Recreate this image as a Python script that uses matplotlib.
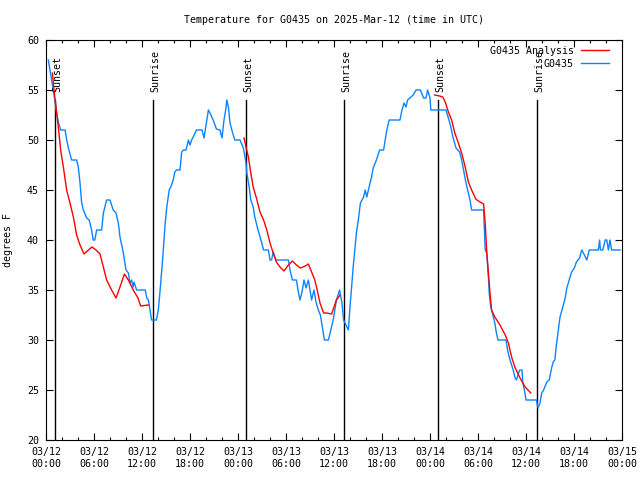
import numpy as np
import matplotlib
matplotlib.use("Agg")
import matplotlib.pyplot as plt
from matplotlib.ticker import MultipleLocator

# hours since 2025-03-12 00:00 UTC
obs_h = [0.29,0.5,0.7,0.9,1.1,1.33,1.54,1.83,2.38,2.6,2.8,3.2,3.83,4.04,4.25,4.46,4.67,5.08,5.4,5.7,5.9,6.1,6.33,6.96,7.17,7.58,8.0,8.4,8.75,9.04,9.25,9.67,10.0,10.3,10.5,10.7,10.9,11.0,11.33,12.4,12.6,12.8,13.0,13.2,13.8,14.04,14.3,14.6,14.9,15.1,15.4,15.6,15.9,16.1,16.3,16.75,16.96,17.2,17.5,17.8,18.0,18.2,18.4,18.8,19.5,19.75,20.1,20.3,20.5,20.9,21.3,21.75,22.0,22.25,22.5,22.6,22.8,23.0,23.3,23.6,24.25,24.67,25.0,25.1,25.4,25.6,25.9,26.1,26.5,26.8,27.2,27.8,28.0,28.2,28.4,28.75,30.3,30.5,30.8,31.3,31.5,31.75,32.0,32.25,32.5,32.8,33.0,33.2,33.5,33.75,34.04,34.3,34.6,34.8,35.3,35.6,35.9,36.3,36.7,37.0,37.2,37.5,37.8,38.0,38.2,38.4,38.6,38.8,39.04,39.3,39.7,39.9,40.1,40.3,40.5,40.7,40.9,41.3,41.7,42.2,42.4,42.6,42.9,44.25,44.5,44.75,45.0,45.2,45.9,46.25,46.8,47.2,47.5,47.7,48.0,48.1,50.0,50.3,50.6,50.9,51.25,51.7,51.96,52.2,52.5,52.8,53.0,53.2,54.7,54.8,54.9,55.1,55.3,55.4,55.6,55.8,56.1,56.3,56.5,57.5,57.7,58.0,58.4,58.6,58.8,59.0,59.2,59.5,59.6,59.8,60.0,61.3,61.5,61.75,61.96,62.2,62.6,62.9,63.2,63.4,63.6,63.8,64.04,64.25,64.5,64.9,65.1,65.4,65.7,66.04,66.3,66.7,66.96,67.3,67.6,67.9,69.04,69.2,69.3,69.6,69.9,70.1,70.3,70.5,70.7,71.75]
obs_t = [58,57,56,55,54,52.7,51.8,51,51,50,49.2,48,48,47.3,45.7,43.7,43,42.2,42,41,40,40,41,41,42.7,44,44,43,42.7,41.7,40.3,38.7,37,36.7,35.7,36,35.3,35.8,35,35,34.2,34,33,32,32,33,35.3,38.3,41.7,43.3,45,45.3,46,46.8,47,47,48.8,49,49,50,49.5,50,50.3,51,51,50.2,52,53,52.7,52,51.1,51,50.2,52,53.2,54,53.3,51.7,50.8,50,50,49.2,47.7,46.7,45.3,44,43.3,42.3,41,40.2,39,39,38,38,38.8,38,38,37,36,36,35,34,34.8,36,35.2,36,35,34,35,33.8,33,32.5,31,30,30,31,32,34,35,33.7,32,31.5,31,33.3,35.3,37.3,39,40.7,42,43.7,44.3,45,44.3,45,45.7,46.3,47.2,48,49,49,50,51,52,52,53,53.7,53.3,54,54.5,55,55,54.2,54.2,55,54.2,53,53,52.2,51.3,50.2,49.2,48.8,48,47,45.7,44.7,44,43,43,41,39,38.7,36.3,34.7,33.3,32.7,31.7,30.7,30,30,29,28,27,26.3,26,26.5,27,27,25.7,25,24,24,23.2,23.7,24.7,25,25.8,26,27.2,27.8,28,29.5,31,32.3,33,34.2,35.2,36,36.8,37.2,37.8,38.2,39,38.5,38,39,39,40,39,39,40,40,39,40,39,39]

an1_h = [0.8,1.04,1.25,1.54,1.83,2.17,2.58,3.0,3.42,3.83,4.25,4.75,5.3,5.75,6.25,6.75,7.17,7.58,8.2,8.75,9.25,9.8,10.3,10.9,11.5,11.83,12.8]
an1_t = [56.7,54.7,53.3,51.3,49,47.3,45,43.7,42.3,40.5,39.5,38.6,39,39.3,39,38.6,37.3,36,35,34.2,35.3,36.6,36,35,34.2,33.4,33.5]
an2_h = [24.75,25.0,25.3,25.6,25.9,26.3,26.75,27.2,27.6,28.0,28.4,28.8,29.25,29.75,30.3,30.8,31.3,31.8,32.4,32.8,33.2,33.6,33.9,34.25,34.7,35.1,35.7,36.0,36.3,36.75]
an2_t = [50.2,49.3,48.3,46.7,45.3,44.2,42.8,42,41,39.7,38.7,37.8,37.3,36.9,37.5,37.9,37.5,37.2,37.4,37.6,36.8,36,35,33.7,32.7,32.7,32.6,33.3,34,34.5]
an3_h = [48.6,49.2,49.6,49.9,50.3,50.7,51.1,51.5,51.96,52.4,52.8,53.2,53.75,54.25,54.7,54.9,55.1,55.3,55.5,55.7,56.1,56.75,57.4,57.8,58.2,58.6,59.25,59.9,60.6]
an3_t = [54.5,54.4,54.3,53.8,52.8,52,50.7,49.8,48.7,47.3,45.8,45,44.07,43.8,43.6,41.7,38.7,36.7,34.7,33,32.3,31.5,30.5,29.7,28.3,27.3,26.2,25.3,24.7]

event_h = [1.13, 13.42, 25.04, 37.29, 49.04, 61.33]
event_lbl = ["Sunset", "Sunrise", "Sunset", "Sunrise", "Sunset", "Sunrise"]

xtick_h = [0, 6, 12, 18, 24, 30, 36, 42, 48, 54, 60, 66, 72]
xtick_lbl = ["03/12\n00:00", "03/12\n06:00", "03/12\n12:00", "03/12\n18:00",
             "03/13\n00:00", "03/13\n06:00", "03/13\n12:00", "03/13\n18:00",
             "03/14\n00:00", "03/14\n06:00", "03/14\n12:00", "03/14\n18:00",
             "03/15\n00:00"]

plt.rcParams['font.family'] = ['DejaVu Sans Mono']
FS = 7.2

fig = plt.figure(figsize=(6.4, 4.8), dpi=100)
ax = fig.add_axes([46/640, 40/480, 576/640, 400/480])

an_h = an1_h + [np.nan] + an2_h + [np.nan] + an3_h
an_t = an1_t + [np.nan] + an2_t + [np.nan] + an3_t

for h, lbl in zip(event_h, event_lbl):
    ax.plot([h, h], [20, 54], color='black', lw=1.0, zorder=1)
    ax.text(h + 0.3, 54.8, lbl, rotation=90, ha='center', va='bottom', fontsize=FS)

ax.plot(an_h, an_t, color='#ff0000', lw=1.0, label='G0435 Analysis', zorder=3)
ax.plot(obs_h, obs_t, color='#0a84ff', lw=1.0, label='G0435', zorder=2)

ax.set_xlim(0, 72)
ax.set_ylim(20, 60)
ax.set_xticks(xtick_h)
ax.set_xticklabels(xtick_lbl, fontsize=FS, linespacing=1.2)
ax.xaxis.set_minor_locator(MultipleLocator(2))
ax.set_yticks(range(20, 61, 5))
ax.tick_params(axis='y', labelsize=FS)
ax.tick_params(which='major', direction='in', length=5, width=0.8, top=True, right=True, pad=5)
ax.tick_params(which='minor', direction='in', length=2.5, width=0.8, top=True, right=False, left=False)
ax.tick_params(axis='x', which='minor', top=True, bottom=True)
for s in ax.spines.values():
    s.set_linewidth(0.8)

ax.set_title("Temperature for G0435 on 2025-Mar-12 (time in UTC)", fontsize=FS, pad=12)
ax.set_ylabel("degrees F", fontsize=FS, labelpad=10)

leg = ax.legend(loc='upper right', bbox_to_anchor=(1 - 8.5/576, 1 - 1/400),
                frameon=False, markerfirst=False, fontsize=FS,
                handlelength=2.8, handletextpad=0.7, labelspacing=0.3,
                borderaxespad=0.3, borderpad=0.2)

fig.savefig("out.png", dpi=100)
